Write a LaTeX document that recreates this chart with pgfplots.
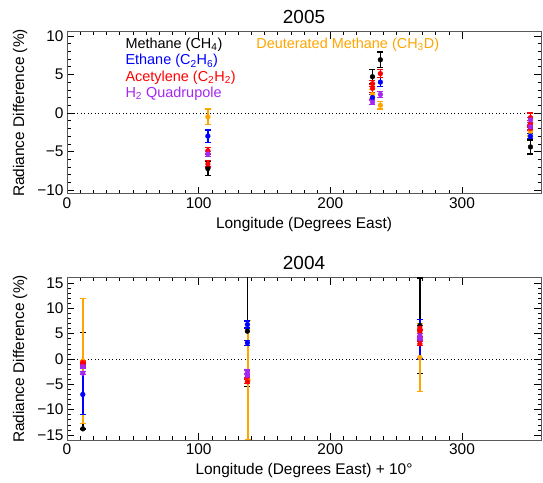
\documentclass[border=0pt]{standalone}
\usepackage{pgfplots}
\pgfplotsset{compat=1.18}
\usepackage{fontspec}
\setmainfont{Liberation Sans}
\definecolor{cor}{RGB}{255,165,0}
\definecolor{cpu}{RGB}{165,40,240}
\definecolor{cbl}{RGB}{0,0,255}
\definecolor{crd}{RGB}{255,0,0}

\pgfplotsset{
  myax/.style={
    scale only axis, width=474bp, height=162bp, anchor=south west,
    xmin=0, xmax=360, xtick={0,100,200,300}, minor x tick num=9,
    minor y tick num=4,
    tick align=inside,
    major tick length=7bp, minor tick length=3.5bp,
    axis line style={black!65, line width=1pt},
    every tick/.style={black, line width=0.6pt},
    tick label style={font=\fontsize{15.5}{17}\selectfont},
    /pgf/number format/assume math mode=true,
    every axis x label/.style={at={(axis description cs:0.5,-0.19)}, anchor=center, font=\fontsize{15.5}{17}\selectfont},
    every axis y label/.style={at={(axis description cs:-0.099,0.5)}, rotate=90, anchor=center, font=\fontsize{15.5}{17}\selectfont},
    every axis title/.style={at={(axis description cs:0.5,1)}, anchor=base, yshift=8bp, font=\fontsize{19}{21}\selectfont},
    error bars/y dir=both, error bars/y explicit,
  },
  pt/.style={only marks, mark=*, mark size=2.4bp, color=#1, mark options={fill=#1, draw=#1},
    error bars/error bar style={line width=1.5pt, draw=#1},
    error bars/error mark options={rotate=90, mark size=3bp, line width=1.3pt, draw=#1}},
  zl/.style={black, line width=0.9pt, dash pattern=on 1pt off 2.5pt, forget plot},
}

\begin{document}
\begin{tikzpicture}[x=1bp,y=1bp]
\path[use as bounding box] (0,0) rectangle (543,483);

% ---------------- 2005 ----------------
\begin{axis}[myax, at={(67bp,289bp)},
  ymin=-10.5, ymax=10.5, ytick={-10,-5,0,5,10},
  yticklabels={−10,−5,0,5,10},
  title={2005},
  xlabel={Longitude (Degrees East)},
  ylabel={Radiance Difference (\%)}]
\addplot[zl] coordinates {(0,0) (360,0)};
\addplot[pt=black] coordinates {
 (107,-7.2) +- (0,0.9)
 (232,4.7) +- (0,0.9)
 (238,6.9) +- (0,1.0)
 (352,-4.4) +- (0,0.9)
};
\addplot[pt=cor] coordinates {
 (107,-0.5) +- (0,1.0)
 (232,2.4) +- (0,0.6)
 (238,1.0) +- (0,0.5)
 (352,-2.4) +- (0,0.6)
};
\addplot[pt=cbl] coordinates {
 (107,-3.0) +- (0,0.8)
 (232,2.0) +- (0,0.4)
 (238,4.0) +- (0,0.6)
 (352,-3.0) +- (0,0.3)
};
\addplot[pt=crd] coordinates {
 (107,-6.6) +- (0,0.4)
 (107,-4.9) +- (0,0.4)
 (232,3.2) +- (0,0.5)
 (232,3.8) +- (0,0.4)
 (238,5.1) +- (0,0.5)
 (352,-0.6) +- (0,0.6)
 (352,-1.4) +- (0,0.4)
 (352,-2.0) +- (0,0.3)
};
\addplot[pt=cpu] coordinates {
 (107,-5.3) +- (0,0.3)
 (232,1.4) +- (0,0.3)
 (238,2.4) +- (0,0.4)
 (352,-0.9) +- (0,0.3)
 (352,-1.8) +- (0,0.3)
};
\begin{scope}[font=\fontsize{14.5}{16}\selectfont]
\node[anchor=west, text=black] at (axis description cs:0.116,0.92) {Methane (CH\textsubscript{4})};
\node[anchor=west, text=cbl] at (axis description cs:0.116,0.82) {Ethane (C\textsubscript{2}H\textsubscript{6})};
\node[anchor=west, text=crd] at (axis description cs:0.116,0.72) {Acetylene (C\textsubscript{2}H\textsubscript{2})};
\node[anchor=west, text=cpu] at (axis description cs:0.116,0.62) {H\textsubscript{2} Quadrupole};
\node[anchor=west, text=cor] at (axis description cs:0.392,0.92) {Deuterated Methane (CH\textsubscript{3}D)};
\end{scope}
\end{axis}

% ---------------- 2004 ----------------
\begin{axis}[myax, at={(67bp,43bp)},
  ymin=-16, ymax=16, ytick={-15,-10,-5,0,5,10,15},
  yticklabels={−15,−10,−5,0,5,10,15},
  title={2004},
  xlabel={Longitude (Degrees East) + 10°},
  ylabel={Radiance Difference (\%)}]
\addplot[zl] coordinates {(0,0) (360,0)};
\addplot[pt=black] coordinates {
 (12,-13.8) += (0,19.1) -= (0,0)
 (137,5.5) +- (0,11)
 (268,6.6) +- (0,9.4)
};
\addplot[pt=cor] coordinates {
 (12,-0.4) +- (0,12.4)
 (137.5,-4.2) += (0,11.8) -= (0,11.7)
 (268,0.3) +- (0,6.7)
};
\addplot[pt=cbl] coordinates {
 (12,-7.0) +- (0,3.9)
 (137,6.8) +- (0,0.7)
 (137,3.2) +- (0,0.5)
 (268,3.9) +- (0,3.9)
};
\addplot[pt=crd] coordinates {
 (12,-0.7) +- (0,0.3)
 (12,-1.1) +- (0,0.3)
 (137,-3.5) +- (0,0.4)
 (137,-4.5) +- (0,0.4)
 (268,6.1) +- (0,0.5)
 (268,5.4) +- (0,0.4)
 (268,3.9) +- (0,0.5)
 (268,3.0) +- (0,0.4)
};
\addplot[pt=cpu] coordinates {
 (12,-1.5) +- (0,0.3)
 (12,-2.8) +- (0,0.3)
 (137,-2.5) +- (0,0.3)
 (137,-3.3) +- (0,0.3)
 (268,4.6) +- (0,0.4)
 (268,4.0) +- (0,0.3)
};
\end{axis}
\end{tikzpicture}
\end{document}
